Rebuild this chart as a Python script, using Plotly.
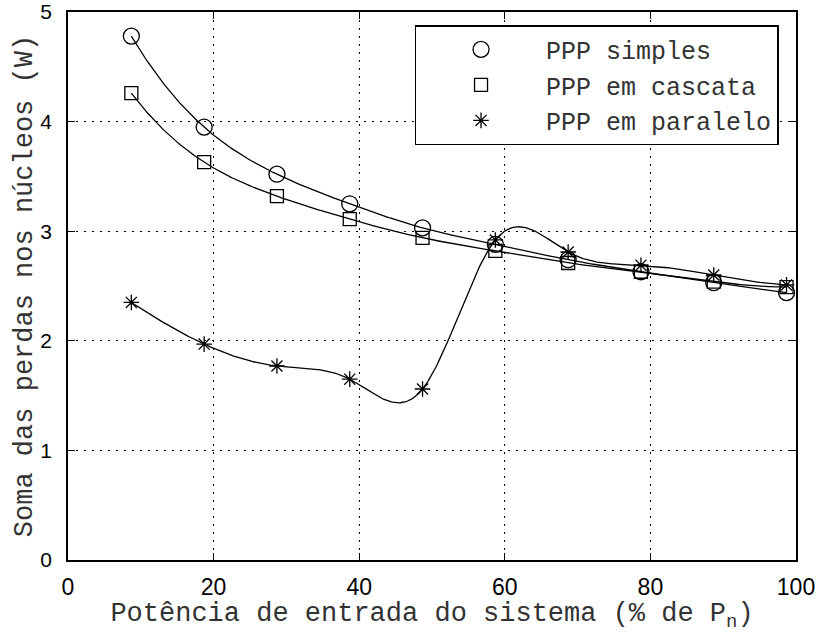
import numpy as np
import plotly.graph_objects as go

# ---- data ----
potencia = [8.7, 18.7, 28.7, 38.7, 48.7, 58.7, 68.7, 78.7, 88.7, 98.7]
ppp_simples = [4.78, 3.95, 3.52, 3.25, 3.03, 2.88, 2.74, 2.63, 2.53, 2.44]
ppp_cascata = [4.26, 3.63, 3.32, 3.11, 2.94, 2.82, 2.71, 2.63, 2.54, 2.49]
ppp_paralelo = [2.35, 1.97, 1.77, 1.65, 1.56, 2.92, 2.81, 2.69, 2.60, 2.51]

series_names = ["PPP simples", "PPP em cascata", "PPP em paralelo"]
x_ticks = [0, 20, 40, 60, 80, 100]
y_ticks = [0, 1, 2, 3, 4, 5]


def spline_curve(xs, ys, n=500):
    """Not-a-knot cubic spline through the data (as MATLAB's spline)."""
    x = np.asarray(xs, float)
    y = np.asarray(ys, float)
    N = len(x)
    h = np.diff(x)
    A = np.zeros((N, N))
    b = np.zeros(N)
    A[0, 0] = h[1]; A[0, 1] = -(h[0] + h[1]); A[0, 2] = h[0]
    for i in range(1, N - 1):
        A[i, i - 1] = h[i - 1]
        A[i, i] = 2 * (h[i - 1] + h[i])
        A[i, i + 1] = h[i]
        b[i] = 6 * ((y[i + 1] - y[i]) / h[i] - (y[i] - y[i - 1]) / h[i - 1])
    A[-1, -3] = h[-1]; A[-1, -2] = -(h[-1] + h[-2]); A[-1, -1] = h[-2]
    M = np.linalg.solve(A, b)
    xf = np.linspace(x[0], x[-1], n)
    idx = np.clip(np.searchsorted(x, xf) - 1, 0, N - 2)
    x0 = x[idx]; x1 = x[idx + 1]; hh = x1 - x0
    yf = ((M[idx] * (x1 - xf) ** 3 + M[idx + 1] * (xf - x0) ** 3) / (6 * hh)
          + (y[idx] / hh - M[idx] * hh / 6) * (x1 - xf)
          + (y[idx + 1] / hh - M[idx + 1] * hh / 6) * (xf - x0))
    return xf, yf


fig = go.Figure()

symbols = ["circle-open", "square-open", "asterisk-open"]
sizes = [16, 13, 13]
for name, vals, sym, sz in zip(series_names, [ppp_simples, ppp_cascata, ppp_paralelo], symbols, sizes):
    xf, yf = spline_curve(potencia, vals)
    fig.add_trace(go.Scatter(x=xf, y=yf, mode="lines", line=dict(color="black", width=1.3),
                             showlegend=False, hoverinfo="skip"))
    fig.add_trace(go.Scatter(x=potencia, y=vals, mode="markers", name=name,
                             marker=dict(symbol=sym, size=sz, color="black",
                                         line=dict(color="black", width=1.3))))

mono = "Liberation Mono, Courier New, monospace"
sans = "Liberation Sans, Arial, Helvetica, sans-serif"

axis_common = dict(
    showline=True, linecolor="black", linewidth=1.5, mirror="ticks",
    ticks="inside", ticklen=7, tickcolor="black", tickwidth=1,
    showgrid=True, gridcolor="black", gridwidth=1, griddash="2px,6px",
    zeroline=False, automargin=False, ticklabeloverflow="allow",
)

fig.update_xaxes(range=[0, 100], tickvals=x_ticks,
                 tickfont=dict(family=sans, size=23, color="black"),
                 ticklabelstandoff=6,
                 title=dict(text="Potência de entrada do sistema (% de P<sub>n</sub>)",
                            font=dict(family=mono, size=27, color="#333"), standoff=0),
                 **axis_common)
fig.update_yaxes(range=[0, 5], tickvals=y_ticks,
                 tickfont=dict(family=sans, size=21, color="black"),
                 ticklabelstandoff=10,
                 title=dict(text="Soma das perdas nos núcleos (W)",
                            font=dict(family=mono, size=27, color="#333"), standoff=0),
                 **axis_common)

fig.update_layout(
    width=816, height=633,
    margin=dict(l=68, r=20, t=12, b=73),
    plot_bgcolor="white", paper_bgcolor="white",
    legend=dict(x=0.476, y=0.976, xanchor="left", yanchor="top",
                bordercolor="black", borderwidth=1.5, bgcolor="white",
                font=dict(family=mono, size=25, color="#333"),
                itemwidth=120, tracegroupgap=0),
)

fig.write_html("out.html", config={"displayModeBar": False},
               post_script="document.body.style.margin='0';document.body.style.overflow='hidden';")
